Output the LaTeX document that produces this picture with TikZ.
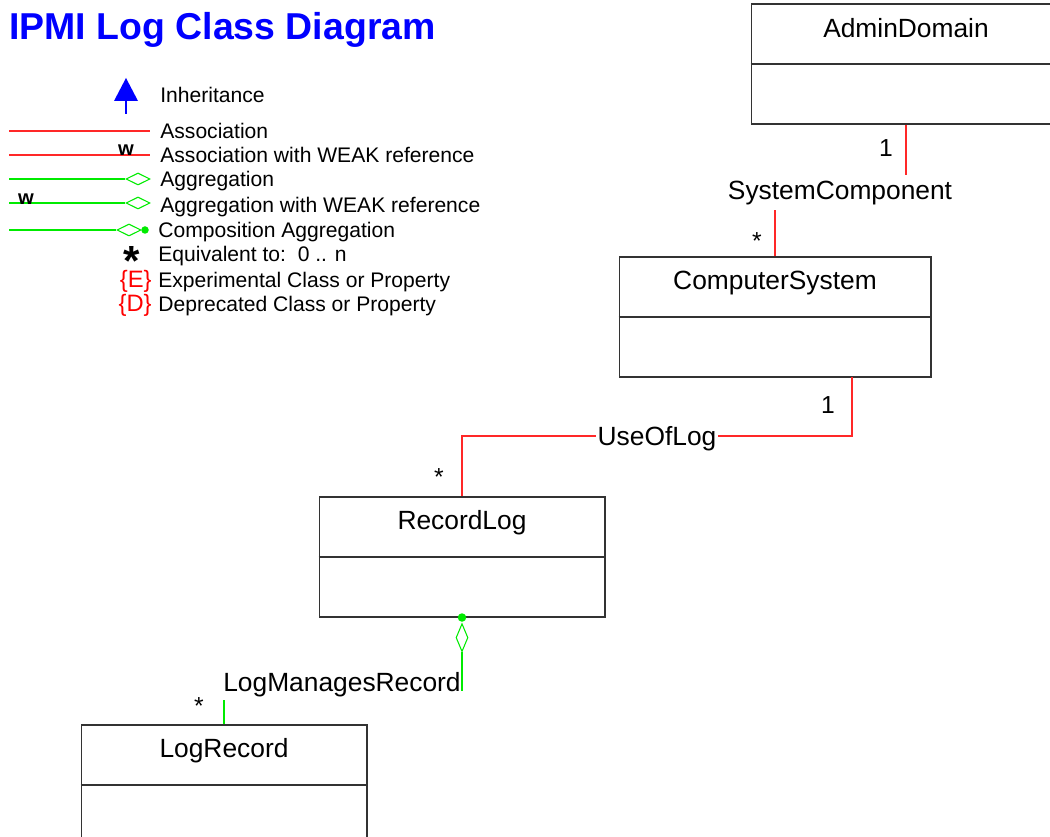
\documentclass[tikz,border=0pt]{standalone}
\usepackage{fontspec}
\setmainfont{Liberation Sans}
\usetikzlibrary{shapes.geometric,positioning}

\definecolor{assocred}{RGB}{255,40,40}
\definecolor{aggrgreen}{RGB}{0,235,0}

\begin{document}
\begin{tikzpicture}[x=0.02cm,y=-0.02cm,
    class/.style={draw=black!80,line width=0.6pt,minimum height=2.4cm,inner sep=0pt},
    ctitle/.style={font=\fontsize{15}{18}\selectfont,inner sep=1pt,text depth=0pt},
    role/.style={font=\fontsize{15}{18}\selectfont,inner sep=1pt,text depth=0pt},
    mult/.style={font=\fontsize{14}{16}\selectfont,inner sep=0pt},
    legend/.style={font=\fontsize{12}{14}\selectfont,anchor=base west,inner sep=0pt},
    weak/.style={font=\fontsize{11.5}{12}\selectfont\bfseries,inner sep=0pt},
    assoc/.style={draw=assocred,line width=0.6pt},
    aggr/.style={draw=aggrgreen,line width=0.6pt},
    lgdia/.style={diamond,draw=aggrgreen,line width=0.6pt,inner sep=0pt,minimum width=0.48cm,minimum height=0.24cm},
    aggdia/.style={diamond,draw=aggrgreen,line width=0.6pt,inner sep=0pt,minimum width=0.24cm,minimum height=0.56cm},
    compdot/.style={circle,fill=aggrgreen,inner sep=0pt,minimum size=0.17cm}]

    \useasboundingbox (0,0) rectangle (1050,837);

    % title and legend
    \node[anchor=west,text=blue,font=\fontsize{21.3}{24}\selectfont\bfseries,inner sep=0pt] (title) at (9,30) {IPMI Log Class Diagram};

    \fill[blue] (126,78) -- (138,101) -- (114,101) -- cycle;
    \draw[blue,line width=1.2pt] (126,100) -- (126,114);
    \node[legend] (inhT) at (160,103) {Inheritance};

    \draw[assoc] (9,131) -- (150,131);
    \node[legend] (assocT) at (160,138.5) {Association};

    \draw[assoc] (9,155) -- (150,155);
    \node[weak] (w1) at (126,150) {w};
    \node[legend] (weakT) at (160,163) {Association with WEAK reference};

    \node[lgdia] (d1) at (138,179) {};
    \draw[aggr] (9,179) -- (d1.west);
    \node[legend] (aggrT) at (160,186.5) {Aggregation};

    \node[lgdia] (d2) at (138,203) {};
    \draw[aggr] (9,203) -- (d2.west);
    \node[weak] (w2) at (26,199) {w};
    \node[legend] (waggrT) at (160,213) {Aggregation with WEAK reference};

    \node[lgdia] (d3) at (129,230) {};
    \node[compdot,minimum size=0.15cm] (c3) at (145,230) {};
    \draw[aggr] (9,230) -- (d3.west);
    \node[legend] (compT) at (158,238) {Composition Aggregation};

    \node[font=\fontsize{24}{24}\selectfont\bfseries,inner sep=0pt] (star) at (132,261) {*};
    \node[legend] (eqT) at (158,262) {Equivalent to:\ \ 0 .. n};
    \node[legend,anchor=base east,text=red,font=\fontsize{13.5}{14}\selectfont] (expS) at (152,288) {\{E\}};
    \node[legend] (expT) at (158,288) {Experimental Class or Property};
    \node[legend,anchor=base east,text=red,font=\fontsize{13.5}{14}\selectfont] (depS) at (152,312) {\{D\}};
    \node[legend] (depT) at (158,312) {Deprecated Class or Property};

    % classes
    \node[class,minimum width=6.2cm] (admin) at (906,64) {};
    \draw[black!80,line width=0.6pt] (admin.west) -- (admin.east);
    \node[ctitle] (adminT) at (906,28) {AdminDomain};

    \node[class,minimum width=6.24cm] (cs) at (775,317) {};
    \draw[black!80,line width=0.6pt] (cs.west) -- (cs.east);
    \node[ctitle] (csT) at (775,280) {ComputerSystem};

    \node[class,minimum width=5.72cm] (rl) at (462,557) {};
    \draw[black!80,line width=0.6pt] (rl.west) -- (rl.east);
    \node[ctitle] (rlT) at (462,520) {RecordLog};

    \node[class,minimum width=5.72cm] (lr) at (224,785) {};
    \draw[black!80,line width=0.6pt] (lr.west) -- (lr.east);
    \node[ctitle] (lrT) at (224,748) {LogRecord};

    % SystemComponent
    \node[role] (sysc) at (840,190) {SystemComponent};
    \draw[assoc] (admin.south) -- (906,175);
    \draw[assoc] (cs.north) -- (775,210);
    \node[mult] (m1) at (886,148) {1};
    \node[mult] (m2) at (757,241) {*};

    % UseOfLog
    \coordinate (csport) at (852,377);
    \node[role] (uol) at (657,436) {UseOfLog};
    \draw[assoc] (csport) |- (uol.east);
    \draw[assoc] (uol.west) -| (rl.north);
    \node[mult] (m3) at (828,405) {1};
    \node[mult] (m4) at (439,477) {*};

    % LogManagesRecord
    \node[compdot] (rldot) at (rl.south) {};
    \node[aggdia,below=0.02cm of rldot] (rldia) {};
    \node[role] (lmr) at (342,682) {LogManagesRecord};
    \draw[aggr] (rldia.south) -- (462,691);
    \draw[aggr] (lr.north) -- (224,700);
    \node[mult] (m5) at (199,706) {*};
\end{tikzpicture}
\end{document}
